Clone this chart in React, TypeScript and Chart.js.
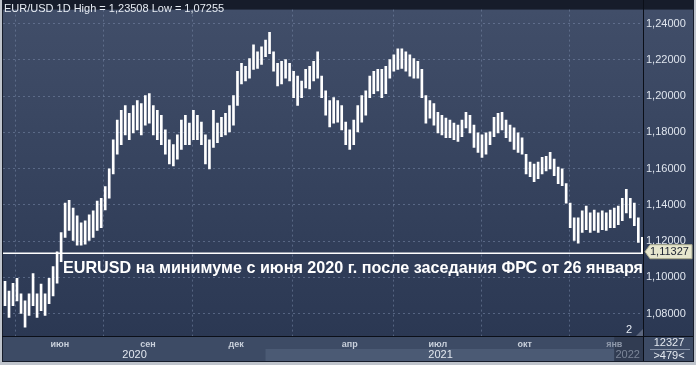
import React, { useEffect, useRef } from 'react';
import { Chart, registerables } from 'chart.js';

Chart.register(...registerables);

// Each entry = one group of 3 daily candles (479 trading days in total)
const highs = [
  1.0978, 1.0924, 1.0967, 1.0994, 1.0908, 1.0870, 1.0908, 1.1021, 1.0908, 1.0962,
  1.0908, 1.0994, 1.1059, 1.1140, 1.1247, 1.1409, 1.1425, 1.1382, 1.1339, 1.1301,
  1.1312, 1.1344, 1.1366, 1.1420, 1.1436, 1.1501, 1.1598, 1.1759, 1.1867, 1.1921,
  1.1948, 1.1905, 1.1948, 1.1975, 1.1959, 1.2002, 1.2013, 1.1948, 1.1921, 1.1894,
  1.1813, 1.1759, 1.1732, 1.1786, 1.1867, 1.1894, 1.1851, 1.1921, 1.1894, 1.1856,
  1.1786, 1.1759, 1.1921, 1.1851, 1.1883, 1.1905, 1.1948, 1.2002, 1.2137, 1.2180,
  1.2164, 1.2207, 1.2282, 1.2244, 1.2271, 1.2309, 1.2352, 1.2244, 1.2180, 1.2191,
  1.2201, 1.2180, 1.2137, 1.2110, 1.2083, 1.2147, 1.2164, 1.2191, 1.2244, 1.2110,
  1.2029, 1.1975, 1.1991, 1.1975, 1.1948, 1.1856, 1.1813, 1.1867, 1.1948, 1.2002,
  1.2029, 1.2110, 1.2137, 1.2147, 1.2147, 1.2164, 1.2201, 1.2228, 1.2261, 1.2261,
  1.2244, 1.2228, 1.2207, 1.2191, 1.2147, 1.2002, 1.1975, 1.1959, 1.1910, 1.1894,
  1.1878, 1.1867, 1.1851, 1.1840, 1.1867, 1.1910, 1.1894, 1.1840, 1.1797, 1.1786,
  1.1797, 1.1802, 1.1883, 1.1905, 1.1910, 1.1867, 1.1840, 1.1824, 1.1797, 1.1770,
  1.1679, 1.1635, 1.1625, 1.1635, 1.1662, 1.1668, 1.1689, 1.1652, 1.1608, 1.1598,
  1.1517, 1.1409, 1.1328, 1.1328, 1.1366, 1.1393, 1.1355, 1.1371, 1.1355, 1.1366,
  1.1355, 1.1371, 1.1382, 1.1393, 1.1436, 1.1485, 1.1436, 1.1409, 1.1328, 1.1220,
];

const lows = [
  1.0843, 1.0778, 1.0843, 1.0870, 1.0800, 1.0725, 1.0789, 1.0843, 1.0778, 1.0816,
  1.0789, 1.0854, 1.0897, 1.0967, 1.1086, 1.1220, 1.1258, 1.1204, 1.1177, 1.1177,
  1.1183, 1.1204, 1.1220, 1.1258, 1.1274, 1.1371, 1.1436, 1.1571, 1.1679, 1.1732,
  1.1786, 1.1759, 1.1797, 1.1813, 1.1786, 1.1840, 1.1851, 1.1786, 1.1759, 1.1732,
  1.1679, 1.1625, 1.1614, 1.1652, 1.1705, 1.1732, 1.1732, 1.1759, 1.1759, 1.1732,
  1.1625, 1.1598, 1.1716, 1.1743, 1.1776, 1.1786, 1.1802, 1.1840, 1.1948, 1.2067,
  1.2083, 1.2099, 1.2147, 1.2153, 1.2174, 1.2218, 1.2234, 1.2137, 1.2056, 1.2067,
  1.2099, 1.2083, 1.1991, 1.1948, 1.1991, 1.2045, 1.2040, 1.2083, 1.2099, 1.1991,
  1.1894, 1.1829, 1.1851, 1.1856, 1.1813, 1.1732, 1.1705, 1.1732, 1.1802, 1.1856,
  1.1894, 1.1991, 1.2013, 1.2029, 1.1991, 1.2013, 1.2099, 1.2137, 1.2147, 1.2153,
  1.2137, 1.2110, 1.2099, 1.2099, 1.1991, 1.1851, 1.1878, 1.1840, 1.1797, 1.1786,
  1.1770, 1.1770, 1.1759, 1.1749, 1.1776, 1.1824, 1.1797, 1.1716, 1.1689, 1.1662,
  1.1679, 1.1732, 1.1776, 1.1797, 1.1813, 1.1770, 1.1749, 1.1705, 1.1689, 1.1679,
  1.1571, 1.1555, 1.1528, 1.1544, 1.1571, 1.1587, 1.1598, 1.1560, 1.1517, 1.1506,
  1.1409, 1.1274, 1.1204, 1.1188, 1.1247, 1.1263, 1.1247, 1.1258, 1.1247, 1.1263,
  1.1258, 1.1274, 1.1274, 1.1290, 1.1312, 1.1355, 1.1328, 1.1285, 1.1193, 1.1133,
];

const barsPerEntry = 3;
const totalBars = 479;

// month ticks (trading-day index)
const monthTickIdx = [42, 108, 174, 259, 325, 390, 457];
const monthLabels = ['июн', 'сен', 'дек', 'апр', 'июл', 'окт', 'янв'];
const yearLabels = ['2020', '2021', '2022'];
const yearLabelIdx = [98, 327, 467];
const yearStartIdx = [-0.5, 196, 457];

const priceTicks = [1.08, 1.1, 1.12, 1.14, 1.16, 1.18, 1.2, 1.22, 1.24];
const lastPrice = 1.11327;
const yMin = 1.06759;
const yMax = 1.24771;

const titleText = 'EUR/USD 1D High = 1,23508 Low = 1,07255';
const headline = 'EURUSD на минимуме с июня 2020 г. после заседания ФРС от 26 января';
const volumeText = '12327';
const barsText = '>479<';
const paneLabel = '2';

const FONT = '"Liberation Sans", Arial, sans-serif';
const fmt = (v: number) => v.toFixed(5).replace('.', ',');

const bgPlugin = {
  id: 'bgPanels',
  beforeDraw(chart: any) {
    const { ctx, chartArea: a, scales } = chart;
    const W = chart.width;
    const bottomEdge = 361;
    ctx.save();
    ctx.fillStyle = '#bfc4cc';
    ctx.fillRect(0, 0, W, chart.height);
    ctx.fillStyle = '#161c2a';
    ctx.fillRect(2, 0, W - 4, bottomEdge + 1);
    const g = ctx.createLinearGradient(0, a.top, 0, a.bottom);
    g.addColorStop(0, '#414e69');
    g.addColorStop(1, '#2b3853');
    ctx.fillStyle = g;
    ctx.fillRect(a.left, a.top, a.right - a.left, a.bottom - a.top);
    ctx.fillRect(a.right + 1, a.top, W - 3 - a.right - 1, a.bottom - a.top);
    ctx.fillStyle = '#3d4b65';
    ctx.fillRect(a.left, a.bottom + 1, W - 3 - a.left, bottomEdge - a.bottom - 1);
    const xs = scales.x;
    const x2021 = xs.getPixelForValue(yearStartIdx[1]);
    const x2022 = xs.getPixelForValue(yearStartIdx[2]);
    ctx.fillStyle = '#4b5a74';
    ctx.fillRect(x2021, 349, x2022 - x2021, bottomEdge - 349);
    ctx.fillStyle = '#313c52';
    ctx.fillRect(x2022, a.bottom + 1, a.right - x2022, bottomEdge - a.bottom - 1);
    ctx.restore();
  },
};

const overlayPlugin = {
  id: 'overlay',
  afterDraw(chart: any) {
    const { ctx, chartArea: a, scales } = chart;
    const W = chart.width;
    const bottomEdge = 361;
    ctx.save();
    // separator lines
    ctx.strokeStyle = '#0b0f18';
    ctx.lineWidth = 1;
    ctx.beginPath();
    ctx.moveTo(a.right + 0.5, 0);
    ctx.lineTo(a.right + 0.5, bottomEdge);
    ctx.moveTo(2, a.bottom + 0.5);
    ctx.lineTo(W - 3, a.bottom + 0.5);
    ctx.stroke();

    // last price line
    const yp = scales.y.getPixelForValue(lastPrice);
    ctx.strokeStyle = '#ffffff';
    ctx.lineWidth = 1.5;
    ctx.beginPath();
    ctx.moveTo(a.left, yp);
    ctx.lineTo(a.right, yp);
    ctx.stroke();

    // price box
    const bx = a.right + 2;
    const top = yp - 8.5;
    const bot = yp + 5.5;
    ctx.beginPath();
    ctx.moveTo(bx, yp - 1.5);
    ctx.lineTo(bx + 5, top);
    ctx.lineTo(W - 4, top);
    ctx.lineTo(W - 4, bot);
    ctx.lineTo(bx + 5, bot);
    ctx.closePath();
    ctx.fillStyle = '#e6e6cd';
    ctx.fill();
    ctx.strokeStyle = '#a9a98c';
    ctx.lineWidth = 1;
    ctx.stroke();
    ctx.fillStyle = '#1d2332';
    ctx.font = `11px ${FONT}`;
    ctx.textBaseline = 'middle';
    ctx.textAlign = 'left';
    ctx.fillText(fmt(lastPrice), bx + 5, yp - 1.5);

    // title
    ctx.fillStyle = '#e8edf4';
    ctx.font = `11px ${FONT}`;
    ctx.textBaseline = 'alphabetic';
    ctx.fillText(titleText, 4, 12);

    // headline
    ctx.font = `bold 16px ${FONT}`;
    const w = ctx.measureText(headline).width;
    const size = (16 * 580) / w;
    ctx.font = `bold ${size.toFixed(2)}px ${FONT}`;
    ctx.fillStyle = '#ffffff';
    ctx.fillText(headline, 63, 273);

    // year labels
    ctx.font = `11px ${FONT}`;
    ctx.textAlign = 'center';
    ctx.textBaseline = 'middle';
    yearLabels.forEach((lab, i) => {
      ctx.fillStyle = i === 2 ? '#7b8598' : '#e2e7ef';
      ctx.fillText(lab, scales.x.getPixelForValue(yearLabelIdx[i]), 355);
    });

    // pane label + resize mark
    ctx.fillStyle = '#e8edf4';
    ctx.fillText(paneLabel, 629, 330);
    ctx.fillStyle = 'rgba(150,160,180,0.45)';
    ctx.beginPath();
    ctx.moveTo(a.right, a.bottom - 7);
    ctx.lineTo(a.right, a.bottom);
    ctx.lineTo(a.right - 7, a.bottom);
    ctx.closePath();
    ctx.fill();

    // bottom right panel
    const cx = (a.right + W - 3) / 2;
    ctx.fillStyle = '#e4e9f0';
    ctx.fillText(volumeText, cx + 1, 342.5);
    ctx.fillText(barsText, cx + 1, 355.5);
    ctx.strokeStyle = '#8793a8';
    ctx.beginPath();
    ctx.moveTo(a.right + 7, 349.5);
    ctx.lineTo(W - 6, 349.5);
    ctx.stroke();
    ctx.restore();
  },
};

export default function App() {
  const ref = useRef<HTMLCanvasElement>(null);
  useEffect(() => {
    const canvas = ref.current;
    if (!canvas) return;
    const gridColor = 'rgba(120,136,168,0.55)';
    const chart = new Chart(canvas, {
      type: 'bar',
      data: {
        datasets: [
          {
            data: highs.map((h, i) => ({ x: i * barsPerEntry + 1, y: [lows[i], h] })) as any,
            backgroundColor: '#ffffff',
            borderWidth: 0,
            barThickness: 2,
          },
        ],
      },
      options: {
        animation: false,
        responsive: false,
        devicePixelRatio: 1,
        layout: { padding: { left: 3, top: 2, right: 3, bottom: 4 } },
        plugins: { legend: { display: false }, tooltip: { enabled: false } },
        scales: {
          x: {
            type: 'linear',
            min: -0.5,
            max: totalBars - 0.5,
            offset: false,
            afterBuildTicks: (s: any) => {
              s.ticks = monthTickIdx.map((v) => ({ value: v }));
            },
            afterFit: (s: any) => {
              s.height = 25;
            },
            ticks: {
              autoSkip: false,
              maxRotation: 0,
              padding: 3,
              font: { family: FONT, size: 9, weight: 'bold' },
              color: (c: any) => (c.index === 6 ? '#8e98aa' : '#c9d0db'),
              callback: (v: any) => {
                const k = monthTickIdx.indexOf(Number(v));
                return k >= 0 ? monthLabels[k] : '';
              },
            },
            grid: { color: gridColor, drawTicks: false, lineWidth: 1 },
            border: { display: false, dash: [2, 3] },
          },
          y: {
            position: 'right',
            min: yMin,
            max: yMax,
            afterBuildTicks: (s: any) => {
              s.ticks = priceTicks.map((v) => ({ value: v }));
            },
            afterFit: (s: any) => {
              s.width = 50;
            },
            ticks: {
              padding: 3,
              font: { family: FONT, size: 11 },
              color: '#dfe5ee',
              callback: (v: any) => fmt(Number(v)),
            },
            grid: { color: gridColor, drawTicks: false, lineWidth: 1 },
            border: { display: false, dash: [2, 3] },
          },
        },
      } as any,
      plugins: [bgPlugin, overlayPlugin],
    });
    return () => chart.destroy();
  }, []);
  return (
    <div style={{ position: 'fixed', left: 0, top: 0, width: 696, height: 365 }}>
      <canvas ref={ref} width={696} height={365} style={{ display: 'block', width: 696, height: 365 }} />
    </div>
  );
}
